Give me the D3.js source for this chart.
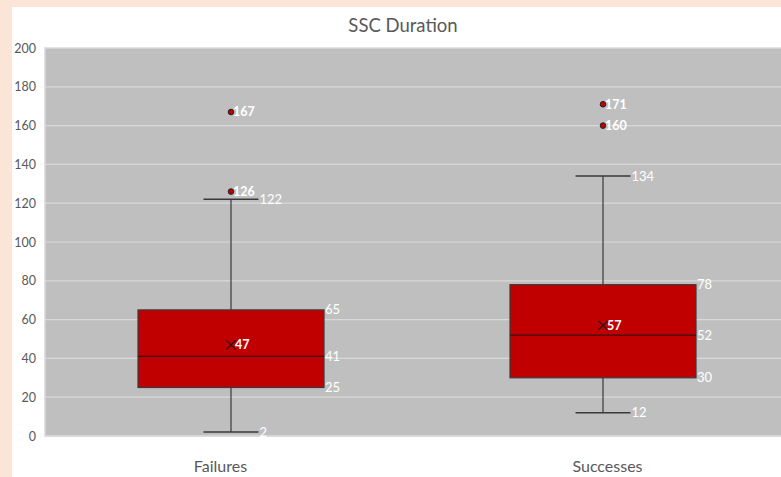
<!DOCTYPE html>
<html>
<head>
<meta charset="utf-8">
<script src="https://cdn.jsdelivr.net/npm/d3@7"></script>
<style>
  html, body { margin: 0; padding: 0; background: #fbe5d6; }
  svg { display: block; }
</style>
</head>
<body>
<svg id="chart" width="781" height="477"></svg>
<script>
// SSC duration summary per outcome
const categories = ["Failures", "Successes"];
const mins      = [2, 12];
const q1s       = [25, 30];
const medians   = [41, 52];
const q3s       = [65, 78];
const maxs      = [122, 134];
const means     = [47, 57];
const outliers  = [[126, 167], [160, 171]];
const yTicks    = [0, 20, 40, 60, 80, 100, 120, 140, 160, 180, 200];

const font = "Lato, 'Open Sans', sans-serif";
const svg = d3.select("#chart");

// white chart panel on peach page
svg.append("rect").attr("x", 12).attr("y", 7).attr("width", 781 - 12).attr("height", 477 - 7).attr("fill", "#ffffff");

const plot = { left: 45, right: 789, top: 48, bottom: 436 };

const x = d3.scaleBand().domain(categories).range([plot.left, plot.right]).padding(0);
const y = d3.scaleLinear().domain([0, 200]).range([plot.bottom, plot.top]);
// category captions sit slightly off the band centres
const xLabel = d3.scalePoint().domain(categories).range([220, 607]);

// plot background
svg.append("rect")
  .attr("x", plot.left).attr("y", plot.top)
  .attr("width", plot.right - plot.left).attr("height", plot.bottom - plot.top)
  .attr("fill", "#bfbfbf").attr("stroke", "#d9d9d9").attr("stroke-width", 1.5);

// gridlines
svg.append("g").selectAll("line").data(yTicks.slice(1, -1)).join("line")
  .attr("x1", plot.left).attr("x2", plot.right)
  .attr("y1", d => y(d)).attr("y2", d => y(d))
  .attr("stroke", "#d9d9d9").attr("stroke-width", 1.2);

// y axis
const yAxis = svg.append("g").attr("transform", `translate(${plot.left},0)`)
  .call(d3.axisLeft(y).tickValues(yTicks).tickSize(0).tickPadding(9));
yAxis.select(".domain").remove();
yAxis.selectAll("text").attr("font-family", font).attr("font-size", 12.5).attr("fill", "#595959");

// baseline
svg.append("line").attr("x1", plot.left).attr("x2", plot.right)
  .attr("y1", plot.bottom).attr("y2", plot.bottom)
  .attr("stroke", "#d9d9d9").attr("stroke-width", 1.5);

// x axis labels
const xAxis = svg.append("g").attr("transform", `translate(0,${plot.bottom})`)
  .call(d3.axisBottom(xLabel).tickSize(0).tickPadding(25));
xAxis.select(".domain").remove();
xAxis.selectAll("text").attr("font-family", font).attr("font-size", 16).attr("fill", "#595959");

// title
svg.append("text").attr("x", 403).attr("y", 32).attr("text-anchor", "middle")
  .attr("font-family", font).attr("font-size", 18.5).attr("fill", "#595959").text("SSC Duration");

const bw = x.bandwidth();
const boxW = bw / 2;
const capW = 55;
const stroke = "#3a3a3a";

categories.forEach((c, i) => {
  const cx = x(c) + bw / 2;
  const g = svg.append("g");
  // whiskers
  g.append("line").attr("x1", cx).attr("x2", cx).attr("y1", y(maxs[i])).attr("y2", y(q3s[i])).attr("stroke", stroke).attr("stroke-width", 1.2);
  g.append("line").attr("x1", cx).attr("x2", cx).attr("y1", y(q1s[i])).attr("y2", y(mins[i])).attr("stroke", stroke).attr("stroke-width", 1.2);
  g.append("line").attr("x1", cx - capW / 2).attr("x2", cx + capW / 2).attr("y1", y(maxs[i])).attr("y2", y(maxs[i])).attr("stroke", stroke).attr("stroke-width", 1.5);
  g.append("line").attr("x1", cx - capW / 2).attr("x2", cx + capW / 2).attr("y1", y(mins[i])).attr("y2", y(mins[i])).attr("stroke", stroke).attr("stroke-width", 1.5);
  // box
  g.append("rect").attr("x", cx - boxW / 2).attr("y", y(q3s[i]))
    .attr("width", boxW).attr("height", y(q1s[i]) - y(q3s[i]))
    .attr("fill", "#c00000").attr("stroke", stroke).attr("stroke-width", 1.2);
  g.append("line").attr("x1", cx - boxW / 2).attr("x2", cx + boxW / 2).attr("y1", y(medians[i])).attr("y2", y(medians[i])).attr("stroke", "#3a1010").attr("stroke-width", 1.2);
  // mean marker
  const m = 4.5;
  g.append("path").attr("d", `M${cx - m},${y(means[i]) - m}L${cx + m},${y(means[i]) + m}M${cx - m},${y(means[i]) + m}L${cx + m},${y(means[i]) - m}`)
    .attr("stroke", "#1a1a1a").attr("stroke-width", 1.2);
  // outliers
  g.selectAll("circle").data(outliers[i]).join("circle")
    .attr("cx", cx).attr("cy", d => y(d)).attr("r", 2.8)
    .attr("fill", "#c00000").attr("stroke", "#222").attr("stroke-width", 1);

  const label = (tx, v, bold) => g.append("text").attr("x", tx).attr("y", y(v)).attr("dy", "0.35em")
    .attr("font-family", font).attr("font-size", bold ? 12.5 : 13).attr("font-weight", bold ? "bold" : "normal")
    .attr("fill", "#ffffff").text(v);
  label(cx + boxW / 2 + 1, q3s[i], false);
  label(cx + boxW / 2 + 1, medians[i], false);
  label(cx + boxW / 2 + 1, q1s[i], false);
  label(cx + capW / 2 + 1, maxs[i], false);
  label(cx + capW / 2 + 1, mins[i], false);
  label(cx + 4, means[i], true);
  outliers[i].forEach(o => label(cx + 2, o, true));
});
</script>
</body>
</html>
